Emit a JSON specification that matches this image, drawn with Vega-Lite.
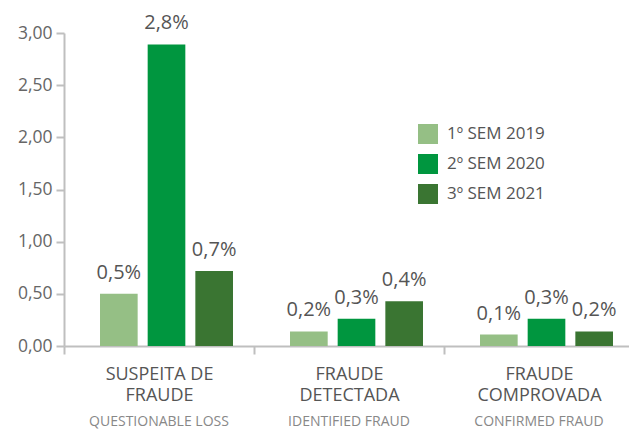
{
  "$schema": "https://vega.github.io/schema/vega-lite/v6.json",
  "autosize": "none",
  "width": 565,
  "height": 313,
  "padding": {"left": 64, "top": 33, "right": 0, "bottom": 83},
  "background": "white",
  "config": {
    "view": {"stroke": null},
    "font": "Open Sans"
  },
  "data": {
    "values": [
      {"cat": "SUSPEITA DE|FRAUDE", "period": "1º SEM 2019", "value": 0.5, "label": "0,5%"},
      {"cat": "SUSPEITA DE|FRAUDE", "period": "2º SEM 2020", "value": 2.89, "label": "2,8%"},
      {"cat": "SUSPEITA DE|FRAUDE", "period": "3º SEM 2021", "value": 0.72, "label": "0,7%"},
      {"cat": "FRAUDE|DETECTADA", "period": "1º SEM 2019", "value": 0.14, "label": "0,2%"},
      {"cat": "FRAUDE|DETECTADA", "period": "2º SEM 2020", "value": 0.26, "label": "0,3%"},
      {"cat": "FRAUDE|DETECTADA", "period": "3º SEM 2021", "value": 0.43, "label": "0,4%"},
      {"cat": "FRAUDE|COMPROVADA", "period": "1º SEM 2019", "value": 0.11, "label": "0,1%"},
      {"cat": "FRAUDE|COMPROVADA", "period": "2º SEM 2020", "value": 0.26, "label": "0,3%"},
      {"cat": "FRAUDE|COMPROVADA", "period": "3º SEM 2021", "value": 0.14, "label": "0,2%"}
    ]
  },
  "resolve": {"axis": {"x": "independent"}},
  "layer": [
    {
      "mark": {"type": "bar"},
      "encoding": {
        "x": {
          "field": "cat", "type": "nominal",
          "sort": ["SUSPEITA DE|FRAUDE", "FRAUDE|DETECTADA", "FRAUDE|COMPROVADA"],
          "scale": {"range": [0, 570], "paddingInner": 0, "paddingOuter": 0},
          "axis": {
            "title": null, "labelAngle": 0,
            "labelExpr": "split(datum.label, '|')",
            "labelFontSize": 18, "labelColor": "#555555", "labelLineHeight": 21,
            "labelPadding": 11, "labelBaseline": "top",
            "domainColor": "#bfbfbf", "domainWidth": 2,
            "tickColor": "#bfbfbf", "tickWidth": 2, "tickSize": 8, "tickBand": "extent"
          }
        },
        "xOffset": {
          "field": "period", "type": "nominal",
          "scale": {"range": [36, 169], "paddingInner": 0.21, "paddingOuter": 0}
        },
        "y": {
          "field": "value", "type": "quantitative",
          "scale": {"domain": [0, 3], "nice": false},
          "axis": {
            "title": null, "values": [0, 0.5, 1, 1.5, 2, 2.5, 3],
            "labelExpr": "replace(format(datum.value, '.2f'), '.', ',')",
            "labelFontSize": 17.5, "labelColor": "#666666", "labelPadding": 4,
            "grid": false,
            "domainColor": "#bfbfbf", "domainWidth": 2,
            "tickColor": "#bfbfbf", "tickWidth": 2, "tickSize": 8
          }
        },
        "color": {
          "field": "period", "type": "nominal",
          "scale": {"range": ["#95bf85", "#00963f", "#3a7532"]},
          "legend": {
            "title": null, "orient": "none", "legendX": 354, "legendY": 91,
            "symbolType": "square", "symbolSize": 400, "symbolStrokeWidth": 0,
            "labelFontSize": 17, "labelColor": "#555555", "labelOffset": 9,
            "rowPadding": 10
          }
        }
      }
    },
    {
      "mark": {"type": "text", "baseline": "alphabetic", "dy": -15, "fontSize": 20, "color": "#555555"},
      "encoding": {
        "x": {
          "field": "cat", "type": "nominal",
          "sort": ["SUSPEITA DE|FRAUDE", "FRAUDE|DETECTADA", "FRAUDE|COMPROVADA"],
          "axis": {
            "title": null, "labelAngle": 0, "orient": "bottom", "offset": 66,
            "labelExpr": "datum.value == 'SUSPEITA DE|FRAUDE' ? 'QUESTIONABLE LOSS' : datum.value == 'FRAUDE|DETECTADA' ? 'IDENTIFIED FRAUD' : 'CONFIRMED FRAUD'",
            "labelFontSize": 14, "labelColor": "#888888", "labelPadding": 2, "labelBaseline": "top",
            "domain": false, "ticks": false
          }
        },
        "xOffset": {"field": "period", "type": "nominal"},
        "y": {"field": "value", "type": "quantitative"},
        "text": {"field": "label"}
      }
    }
  ]
}
